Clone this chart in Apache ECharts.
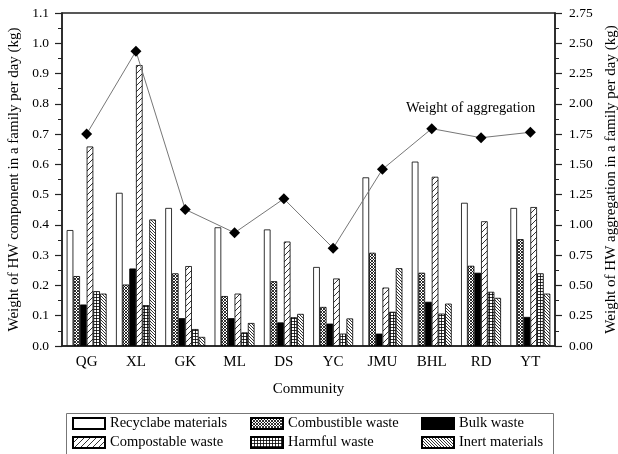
<!DOCTYPE html>
<html>
<head>
<meta charset="utf-8">
<script src="https://cdn.jsdelivr.net/npm/echarts@6/dist/echarts.min.js"></script>
<style>
html,body{margin:0;padding:0;background:#fff;}
#c{width:618px;height:454px;}
</style>
</head>
<body>
<div id="c"></div>
<script>
var categories = ['QG','XL','GK','ML','DS','YC','JMU','BHL','RD','YT'];
var recyclable  = [0.383,0.506,0.456,0.392,0.385,0.261,0.557,0.609,0.473,0.456];
var combustible = [0.231,0.203,0.240,0.165,0.214,0.129,0.308,0.242,0.265,0.353];
var bulk        = [0.137,0.256,0.092,0.092,0.078,0.074,0.041,0.146,0.242,0.096];
var compostable = [0.659,0.928,0.264,0.173,0.345,0.223,0.193,0.559,0.412,0.459];
var harmful     = [0.181,0.135,0.056,0.045,0.095,0.041,0.113,0.107,0.179,0.240];
var inert       = [0.173,0.418,0.030,0.076,0.106,0.091,0.257,0.140,0.159,0.173];
var aggregation = [1.75,2.435,1.128,0.935,1.216,0.808,1.459,1.795,1.720,1.765];
var leftTicks = {min:0, max:1.1, interval:0.1};
var rightTicks = {min:0, max:2.75, interval:0.25};

function pattern(kind){
  var s = kind==='slash' ? 6 : 3;
  var cv = document.createElement('canvas');
  cv.width = s; cv.height = s;
  var g = cv.getContext('2d');
  g.fillStyle = '#fff'; g.fillRect(0,0,s,s);
  g.strokeStyle = '#000'; g.lineWidth = 0.8;
  g.beginPath();
  if(kind==='slash'){
    g.moveTo(0,s); g.lineTo(s,0);
    g.moveTo(-1,1); g.lineTo(1,-1);
    g.moveTo(s-1,s+1); g.lineTo(s+1,s-1);
  } else if(kind==='back'){
    g.moveTo(0,0); g.lineTo(s,s);
    g.moveTo(-1,s-1); g.lineTo(1,s+1);
    g.moveTo(s-1,-1); g.lineTo(s+1,1);
  } else if(kind==='cross'){
    g.moveTo(0,0); g.lineTo(s,s);
    g.moveTo(0,s); g.lineTo(s,0);
  } else if(kind==='grid'){
    g.moveTo(0,0.5); g.lineTo(s,0.5);
    g.moveTo(0.5,0); g.lineTo(0.5,s);
  }
  g.stroke();
  return {image: cv, repeat: 'repeat'};
}

var font = 'Liberation Serif';
function barSeries(name, data, color){
  return {
    name: name, type: 'bar', data: data,
    barGap: '0%', barCategoryGap: '19%',
    itemStyle: {color: color, borderColor: '#000', borderWidth: 0.8},
    emphasis: {disabled: true}
  };
}

var chart = echarts.init(document.getElementById('c'));
var legendBase = {
  orient: 'vertical', top: 416, itemWidth: 32, itemHeight: 11, itemGap: 4,
  padding: 0, icon: 'rect', selectedMode: false,
  textStyle: {fontFamily: font, fontSize: 14.5, color: '#000'}
};
chart.setOption({
  animation: false,
  backgroundColor: '#fff',
  textStyle: {fontFamily: font},
  grid: {left: 62, right: 63, top: 13, bottom: 108, show: true, borderColor: '#222', borderWidth: 1.5, containLabel: false, outerBoundsMode: 'none'},
  legend: [
    Object.assign({}, legendBase, {left: 72, data: ['Recyclabe materials','Compostable waste']}),
    Object.assign({}, legendBase, {left: 250, data: ['Combustible waste','Harmful waste']}),
    Object.assign({}, legendBase, {left: 421, data: ['Bulk waste','Inert materials']})
  ],
  xAxis: {
    type: 'category', data: categories,
    axisLine: {lineStyle: {color: '#222', width: 1.5}},
    axisTick: {alignWithLabel: true, length: 6, lineStyle: {color: '#222', width: 1.2}},
    axisLabel: {fontFamily: font, fontSize: 15, color: '#000', margin: 9},
    name: 'Community', nameLocation: 'middle', nameGap: 36,
    nameTextStyle: {fontFamily: font, fontSize: 15, color: '#000'}
  },
  yAxis: [
    {
      type: 'value', min: leftTicks.min, max: leftTicks.max, interval: leftTicks.interval,
      axisLine: {show: true, lineStyle: {color: '#222', width: 1.5}},
      axisTick: {show: true, length: 7, lineStyle: {color: '#222', width: 1.2}},
      minorTick: {show: true, splitNumber: 2, length: 4, lineStyle: {color: '#222', width: 1}},
      splitLine: {show: false},
      axisLabel: {fontFamily: font, fontSize: 13.5, color: '#000', margin: 13, formatter: function(v){return v.toFixed(1);}},
      name: 'Weight of HW component in a family per day (kg)', nameLocation: 'middle', nameGap: 34,
      nameTextStyle: {fontFamily: font, fontSize: 15, color: '#000'}
    },
    {
      type: 'value', min: rightTicks.min, max: rightTicks.max, interval: rightTicks.interval,
      position: 'right',
      axisLine: {show: true, lineStyle: {color: '#222', width: 1.5}},
      axisTick: {show: true, length: 7, lineStyle: {color: '#222', width: 1.2}},
      minorTick: {show: true, splitNumber: 2, length: 4, lineStyle: {color: '#222', width: 1}},
      splitLine: {show: false},
      axisLabel: {fontFamily: font, fontSize: 13.5, color: '#000', margin: 14, formatter: function(v){return v.toFixed(2);}},
      name: 'Weight of HW aggregation in a family per day (kg)', nameLocation: 'middle', nameGap: 48,
      nameTextStyle: {fontFamily: font, fontSize: 15, color: '#000'}
    }
  ],
  series: [
    barSeries('Recyclabe materials', recyclable, '#fff'),
    barSeries('Combustible waste', combustible, pattern('cross')),
    barSeries('Bulk waste', bulk, '#000'),
    barSeries('Compostable waste', compostable, pattern('slash')),
    barSeries('Harmful waste', harmful, pattern('grid')),
    barSeries('Inert materials', inert, pattern('back')),
    {
      name: 'Weight of aggregation', type: 'line', yAxisIndex: 1, data: aggregation,
      symbol: 'diamond', symbolSize: [11, 11], z: 5,
      itemStyle: {color: '#000'},
      lineStyle: {color: '#777', width: 1},
      emphasis: {disabled: true}
    }
  ],
  graphic: [
    {type: 'rect', shape: {x: 66.5, y: 413.5, width: 487, height: 60}, style: {fill: 'none', stroke: '#777', lineWidth: 1}, silent: true},
    {type: 'text', left: 406, top: 101, style: {text: 'Weight of aggregation', fontFamily: font, fontSize: 14.5, fill: '#000'}, silent: true}
  ]
});
</script>
</body>
</html>
